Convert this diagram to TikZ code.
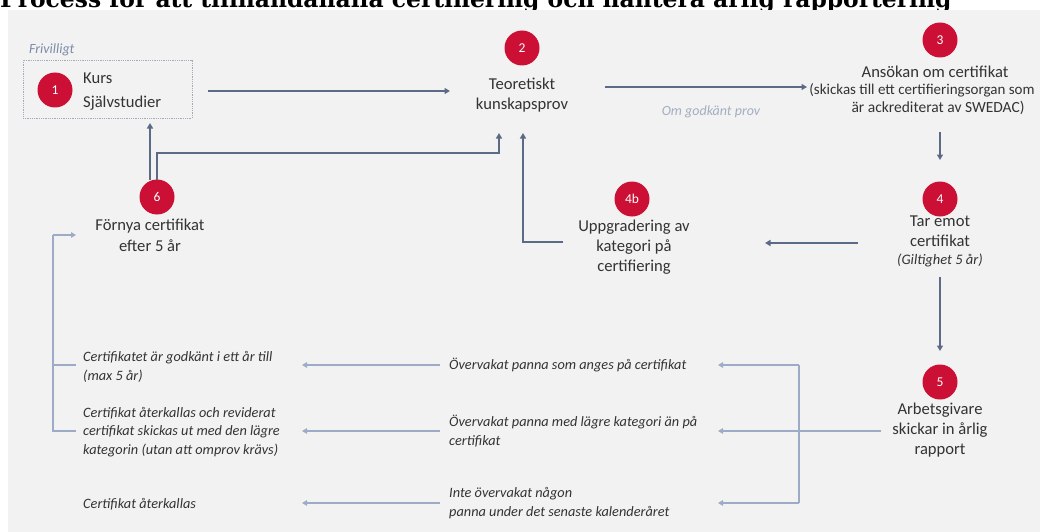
\documentclass[tikz,border=0pt]{standalone}
\usepackage{fontspec}
\setmainfont{Carlito}
\newfontfamily\titlefont{DejaVu Serif}
\usetikzlibrary{arrows.meta}
\definecolor{panel}{HTML}{F2F2F2}
\definecolor{badge}{HTML}{CC0F35}
\definecolor{darkline}{HTML}{5B6A85}
\definecolor{lightline}{HTML}{9EABC6}
\definecolor{txt}{HTML}{333333}
\definecolor{note}{HTML}{7E8CA8}
\definecolor{notelight}{HTML}{A3AEC2}
\definecolor{boxline}{HTML}{A3ABBB}
\tikzset{
  badgenode/.style={circle, fill=badge, minimum size=35pt, inner sep=0pt, text=white, font=\fontsize{13.5}{13.5}\selectfont},
  lbl/.style={text=txt, font=\fontsize{16.6}{20}\selectfont, align=center, inner sep=0pt},
  itl/.style={text=txt, font=\itshape\fontsize{14.3}{18.5}\selectfont, align=left, inner sep=0pt, anchor=west},
  darr/.style={draw=darkline, line width=1.5pt, -{Triangle[length=5.5pt,width=6pt]}},
  dline/.style={draw=darkline, line width=1.5pt},
  larr/.style={draw=lightline, line width=1.2pt, -{Triangle[length=5pt,width=5.5pt]}},
  lline/.style={draw=lightline, line width=1.2pt}
}
\begin{document}
\begin{tikzpicture}[x=1pt,y=-1pt]
\useasboundingbox (0,0) rectangle (1040,532);
\fill[white] (0,0) rectangle (1040,532);
\begin{scope}
\clip (0,0) rectangle (1040,10);
\node[anchor=base west, inner sep=0pt, font=\titlefont\bfseries\fontsize{23.4}{28}\selectfont] (title) at (0,7.5) {Process för att tillhandahålla certifiering och hantera årlig rapportering};
\end{scope}
\fill[panel] (8,10) rectangle (1040,532);

% step 1
\node[text=note, font=\itshape\fontsize{14}{16}\selectfont, anchor=west, inner sep=0pt] (friv) at (29,50) {Frivilligt};
\node[draw=boxline, densely dotted, line width=0.8pt, minimum width=169pt, minimum height=58pt, inner sep=0pt] (box) at (107.5,89) {};
\node[badgenode] (c1) at (55,90) {1};
\node[lbl, anchor=west] (t1a) at (83,78) {Kurs};
\node[lbl, anchor=west] (t1b) at (83,103) {Självstudier};

% step 2
\node[badgenode] (c2) at (522,48) {2};
\node[lbl] (t2) at (522,95) {Teoretiskt\\kunskapsprov};

% step 3
\node[badgenode] (c3) at (940,40) {3};
\node[lbl] (t3a) at (935,72) {Ansökan om certifikat};
\node[lbl, font=\fontsize{15}{18}\selectfont] (t3b) at (922,90) {(skickas till ett certifieringsorgan som};
\node[lbl, font=\fontsize{15.5}{18}\selectfont] (t3c) at (938,108) {är ackrediterat av SWEDAC)};
\node[text=notelight, font=\itshape\fontsize{14}{16}\selectfont, inner sep=0pt] (ok) at (711,112) {Om godkänt prov};

% step 4
\node[badgenode] (c4) at (940,199) {4};
\node[lbl] (t4) at (940,231) {Tar emot\\certifikat};
\node[lbl, font=\itshape\fontsize{14.5}{16}\selectfont] (t4g) at (940,260) {(Giltighet 5 år)};

% step 4b
\node[badgenode] (c4b) at (632,199) {4b};
\node[lbl] (t4b) at (634,247) {Uppgradering av\\kategori på\\certifiering};

% step 5
\node[badgenode] (c5) at (940,382) {5};
\node[lbl] (t5) at (940,430) {Arbetsgivare\\skickar in årlig\\rapport};

% step 6
\node[badgenode] (c6) at (157,197) {6};
\node[lbl, font=\fontsize{16.6}{21}\selectfont] (t6) at (150,235) {Förnya certifikat\\efter 5 år};

% outcomes (right column)
\node[itl] (r1) at (449,365) {Övervakat panna som anges på certifikat};
\node[itl] (r2) at (449,431) {Övervakat panna med lägre kategori än på\\certifikat};
\node[itl] (r3) at (449,503) {Inte övervakat någon\\panna under det senaste kalenderåret};

% consequences (left column)
\node[itl] (l1) at (83,367) {Certifikatet är godkänt i ett år till\\(max 5 år)};
\node[itl] (l2) at (83,432) {Certifikat återkallas och reviderat\\certifikat skickas ut med den lägre\\kategorin (utan att omprov krävs)};
\node[itl] (l3) at (83,504) {Certifikat återkallas};

% connector coordinates
\coordinate (a12s) at (208,91);  \coordinate (a12e) at (450,91);
\coordinate (a23s) at (605,87);  \coordinate (a23e) at (807,87);
\coordinate (a34s) at (940,132); \coordinate (a34e) at (940,160);
\coordinate (a45s) at (940,277); \coordinate (a45e) at (940,351);
\coordinate (a44s) at (858,243); \coordinate (a44e) at (765,243);
\coordinate (b2s) at (563,242);  \coordinate (b2c) at (523,242); \coordinate (b2e) at (523,133);
\coordinate (s6a) at (150,180);  \coordinate (e6a) at (150,123);
\coordinate (s6b) at (157,180);  \coordinate (k6a) at (157,153); \coordinate (k6b) at (499,153); \coordinate (e6b) at (499,133);
\coordinate (f5s) at (881,431);  \coordinate (fj) at (799,431);
\coordinate (fj1) at (799,365);  \coordinate (fj3) at (799,503);
\coordinate (fr1) at (718,365);  \coordinate (fr2) at (718,431); \coordinate (fr3) at (718,503);
\coordinate (g1s) at (440,365);  \coordinate (g1e) at (302,365);
\coordinate (g2s) at (440,431);  \coordinate (g2e) at (302,431);
\coordinate (g3s) at (440,503);  \coordinate (g3e) at (302,503);
\coordinate (h1) at (76,365); \coordinate (h2) at (76,431);
\coordinate (hv1) at (53,365); \coordinate (hv2) at (53,431); \coordinate (hv0) at (53,235);
\coordinate (he) at (76,235);

% dark connectors
\draw[darr] (a12s) -- (a12e);
\draw[darr] (a23s) -- (a23e);
\draw[darr] (a34s) -- (a34e);
\draw[darr] (a45s) -- (a45e);
\draw[darr] (a44s) -- (a44e);
\draw[darr] (b2s) -- (b2c) -- (b2e);
\draw[darr] (s6a) -- (e6a);
\draw[darr] (s6b) -- (k6a) -- (k6b) -- (e6b);

% light connectors
\draw[lline] (f5s) -- (fj);
\draw[lline] (fj1) -- (fj3);
\draw[larr] (fj1) -- (fr1);
\draw[larr] (fj) -- (fr2);
\draw[larr] (fj3) -- (fr3);
\draw[larr] (g1s) -- (g1e);
\draw[larr] (g2s) -- (g2e);
\draw[larr] (g3s) -- (g3e);
\draw[lline] (h1) -- (hv1);
\draw[lline] (h2) -- (hv2) -- (hv0);
\draw[larr] (hv0) -- (he);
\end{tikzpicture}
\end{document}
